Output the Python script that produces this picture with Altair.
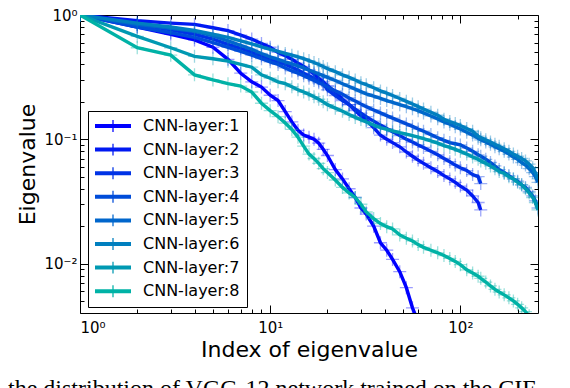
import altair as alt
import pandas as pd

# ---------------- data ----------------
X = [1, 2, 3, 4, 5, 6, 7, 8, 9, 10, 11, 12, 13, 14, 15, 16, 17, 18, 19, 20,
     22, 24, 26, 28, 30, 32, 35, 38, 41, 44, 48, 52, 56, 60, 64,
     70, 76, 82, 88, 94, 100, 108, 116, 124, 128,
     136, 144, 152, 160, 170, 180, 190, 200, 210, 220, 230, 240, 248, 256]

NAMES = ["CNN-layer:1", "CNN-layer:2", "CNN-layer:3", "CNN-layer:4",
         "CNN-layer:5", "CNN-layer:6", "CNN-layer:7", "CNN-layer:8"]
COLORS = ["#0000ff", "#0019f2", "#0033e6", "#004cd9",
          "#0066cc", "#007fbf", "#0099b2", "#00b2a6"]

L1 = [1.0, 0.80, 0.70, 0.63, 0.55, 0.44, 0.34, 0.29, 0.263, 0.226, 0.205, 0.167,
      0.138, 0.118, 0.108, 0.104, 0.100, 0.093, 0.083, 0.074,
      0.057, 0.048, 0.040, 0.034, 0.028, 0.025, 0.020, 0.0147, 0.0128, 0.0108,
      0.0086, 0.0064, 0.0044, 0.0034, 0.0027]
L2 = [1.0, 0.90, 0.86, 0.84, 0.79, 0.75, 0.69, 0.64, 0.59, 0.55, 0.50, 0.47,
      0.44, 0.41, 0.385, 0.36, 0.335, 0.31, 0.29, 0.27,
      0.24, 0.21, 0.19, 0.17, 0.155, 0.142, 0.124, 0.108, 0.100, 0.094,
      0.087, 0.079, 0.073, 0.068, 0.064,
      0.059, 0.055, 0.051, 0.048, 0.045, 0.042, 0.039, 0.035, 0.031, 0.027]
L3 = [1.0, 0.84, 0.76, 0.70, 0.64, 0.58, 0.54, 0.50, 0.47, 0.44, 0.42, 0.40,
      0.38, 0.36, 0.34, 0.325, 0.31, 0.295, 0.28, 0.25,
      0.225, 0.205, 0.19, 0.175, 0.162, 0.152, 0.14, 0.13, 0.122, 0.115,
      0.107, 0.100, 0.095, 0.090, 0.086,
      0.080, 0.075, 0.070, 0.066, 0.062, 0.059, 0.056, 0.052, 0.050, 0.044]
L4 = [1.0, 0.80, 0.72, 0.66, 0.60, 0.55, 0.51, 0.475, 0.445, 0.42, 0.40, 0.375,
      0.355, 0.34, 0.325, 0.31, 0.297, 0.285, 0.275, 0.265,
      0.245, 0.23, 0.215, 0.203, 0.192, 0.183, 0.172, 0.163, 0.155, 0.148,
      0.14, 0.133, 0.127, 0.121, 0.116,
      0.109, 0.103, 0.098, 0.094, 0.092, 0.09, 0.085, 0.08, 0.075, 0.073,
      0.069, 0.065, 0.061, 0.057, 0.054, 0.051, 0.048, 0.046, 0.043, 0.041,
      0.038, 0.035, 0.032, 0.028]
L5 = [1.0, 0.84, 0.78, 0.74, 0.68, 0.62, 0.57, 0.53, 0.49, 0.46, 0.44, 0.42,
      0.405, 0.39, 0.375, 0.36, 0.348, 0.336, 0.325, 0.315,
      0.297, 0.28, 0.266, 0.253, 0.242, 0.232, 0.222, 0.213, 0.205, 0.198,
      0.19, 0.183, 0.176, 0.17, 0.163,
      0.154, 0.146, 0.138, 0.132, 0.126, 0.121, 0.114, 0.108, 0.102, 0.099,
      0.095, 0.091, 0.087, 0.084, 0.08, 0.076, 0.072, 0.069, 0.065, 0.062,
      0.058, 0.054, 0.05, 0.045]
L6 = [1.0, 0.86, 0.80, 0.75, 0.70, 0.66, 0.62, 0.585, 0.555, 0.53, 0.51, 0.49,
      0.475, 0.46, 0.445, 0.43, 0.415, 0.40, 0.385, 0.37,
      0.35, 0.33, 0.315, 0.30, 0.285, 0.275, 0.26, 0.245, 0.235, 0.225,
      0.213, 0.202, 0.192, 0.183, 0.175,
      0.165, 0.156, 0.145, 0.139, 0.134, 0.129, 0.122, 0.116, 0.106, 0.103,
      0.099, 0.095, 0.091, 0.088, 0.084, 0.08, 0.076, 0.073, 0.07, 0.067,
      0.063, 0.059, 0.054, 0.048]
L7 = [1.0, 0.674, 0.545, 0.465, 0.445, 0.425, 0.40, 0.38, 0.33, 0.31, 0.29, 0.28,
      0.265, 0.25, 0.24, 0.23, 0.22, 0.21, 0.20, 0.19,
      0.178, 0.168, 0.158, 0.15, 0.144, 0.138, 0.13, 0.124, 0.12, 0.117,
      0.113, 0.11, 0.107, 0.104, 0.101,
      0.097, 0.093, 0.089, 0.086, 0.083, 0.08, 0.076, 0.072, 0.069, 0.067,
      0.064, 0.061, 0.058, 0.055, 0.053, 0.05, 0.048, 0.045, 0.043, 0.04,
      0.037, 0.034, 0.031, 0.027]
L8 = [1.0, 0.545, 0.475, 0.33, 0.30, 0.28, 0.268, 0.24, 0.195, 0.17, 0.152, 0.135,
      0.12, 0.104, 0.088, 0.076, 0.07, 0.064, 0.058, 0.054,
      0.047, 0.041, 0.037, 0.034, 0.030, 0.026, 0.023, 0.021, 0.0198, 0.019,
      0.017, 0.016, 0.0152, 0.0142, 0.0135,
      0.0128, 0.0122, 0.0116, 0.011, 0.0104, 0.0098, 0.0089, 0.0084, 0.0079, 0.0076,
      0.0071, 0.0066, 0.0062, 0.0059, 0.0056, 0.0053, 0.005, 0.0047, 0.0044, 0.0041,
      0.0038, 0.0035, 0.0032, 0.0028]
SERIES = [L1, L2, L3, L4, L5, L6, L7, L8]

X_MAJOR = [1, 10, 100]
X_MAJOR_LABELS = ["10⁰", "10¹", "10²"]
X_MINOR = [2, 3, 4, 5, 6, 7, 8, 9, 20, 30, 40, 50, 60, 70, 80, 90, 200]
Y_MAJOR = [0.01, 0.1, 1]
Y_MAJOR_LABELS = ["10⁻²", "10⁻¹", "10⁰"]
Y_MINOR = [0.005, 0.006, 0.007, 0.008, 0.009,
           0.02, 0.03, 0.04, 0.05, 0.06, 0.07, 0.08, 0.09,
           0.2, 0.3, 0.4, 0.5, 0.6, 0.7, 0.8, 0.9]

CAPTION = "the distribution of VGG-12 network trained on the CIF"

rows = []
for name, vals in zip(NAMES, SERIES):
    for xv, v in zip(X, vals):
        rows.append({"x": xv, "v": v, "layer": name})
df = pd.DataFrame(rows)


def label_expr(values, labels):
    expr = f"'{labels[-1]}'"
    for v, lab in reversed(list(zip(values[:-1], labels[:-1]))):
        expr = f"abs(datum.value - {v}) < {v * 1e-6} ? '{lab}' : " + expr
    return expr


FONT = "DejaVu Sans"
PLUS = "M-1,0L1,0M0,-1L0,1"
LEG_SYM = ("M-1,-0.11L1,-0.11L1,0.11L-1,0.11Z "
           "M-0.035,-0.33L0.035,-0.33L0.035,0.33L-0.035,0.33Z")

xs = alt.Scale(type="log", domain=[1, 256], nice=False)
ys = alt.Scale(type="log", domain=[0.004, 1], nice=False)
cs = alt.Scale(domain=NAMES, range=COLORS)

base = alt.Chart(df)

common = dict(grid=False, domain=False, tickColor="black", tickWidth=1)

ax_b_major = alt.Axis(orient="bottom", values=X_MAJOR,
                      labelExpr=label_expr(X_MAJOR, X_MAJOR_LABELS),
                      tickSize=8, offset=-8, labelPadding=7,
                      labelFont=FONT, labelFontSize=15, labelColor="black",
                      title="Index of eigenvalue", titleFont=FONT, titleFontSize=22,
                      titleFontWeight="normal", titleColor="black",
                      titleBaseline="alphabetic", titleY=51, **common)
ax_b_minor = alt.Axis(orient="bottom", values=X_MINOR, labels=False,
                      tickSize=4, offset=-4, title=None, **common)
ax_t_major = alt.Axis(orient="top", values=X_MAJOR, labels=False,
                      tickSize=8, offset=-8, title=None, **common)
ax_t_minor = alt.Axis(orient="top", values=X_MINOR, labels=False,
                      tickSize=4, offset=-4, title=None, **common)

ax_l_major = alt.Axis(orient="left", values=Y_MAJOR,
                      labelExpr=label_expr(Y_MAJOR, Y_MAJOR_LABELS),
                      tickSize=8, offset=-8, labelPadding=3,
                      labelFont=FONT, labelFontSize=15, labelColor="black",
                      title="Eigenvalue", titleFont=FONT, titleFontSize=22,
                      titleFontWeight="normal", titleColor="black",
                      titleBaseline="middle", titleX=-61, **common)
ax_l_minor = alt.Axis(orient="left", values=Y_MINOR, labels=False,
                      tickSize=4, offset=-4, title=None, **common)
ax_r_major = alt.Axis(orient="right", values=Y_MAJOR, labels=False,
                      tickSize=8, offset=-8, title=None, **common)
ax_r_minor = alt.Axis(orient="right", values=Y_MINOR, labels=False,
                      tickSize=4, offset=-4, title=None, **common)

legend = alt.Legend(title=None, orient="none", legendX=8, legendY=96,
                    symbolType=LEG_SYM, symbolSize=1296, symbolStrokeWidth=0,
                    symbolOpacity=1, clipHeight=16,
                    labelFont=FONT, labelFontSize=16, labelColor="black",
                    labelOffset=12, labelLimit=0, padding=7, rowPadding=7.6,
                    strokeColor="black", fillColor="white", cornerRadius=0)

empty = base.transform_filter("false")
carriers = [
    empty.mark_point(filled=True, opacity=1).encode(
        x=alt.X("x:Q", scale=xs, axis=ax_b_major),
        y=alt.Y("v:Q", scale=ys, axis=ax_l_major),
        color=alt.Color("layer:N", scale=cs, legend=legend),
    ),
    empty.mark_point().encode(
        x=alt.X("x:Q", scale=xs, axis=ax_b_minor),
        y=alt.Y("v:Q", scale=ys, axis=ax_l_minor),
    ),
    empty.mark_point().encode(
        x=alt.X("x:Q", scale=xs, axis=ax_t_major),
        y=alt.Y("v:Q", scale=ys, axis=ax_r_major),
    ),
    empty.mark_point().encode(
        x=alt.X("x:Q", scale=xs, axis=ax_t_minor),
        y=alt.Y("v:Q", scale=ys, axis=ax_r_minor),
    ),
]

layers = []
for name in NAMES:
    sub = base.transform_filter(alt.datum.layer == name)
    layers.append(sub.mark_line(strokeWidth=3.4, clip=True).encode(
        x=alt.X("x:Q", scale=xs, axis=None),
        y=alt.Y("v:Q", scale=ys, axis=None),
        color=alt.Color("layer:N", scale=cs, legend=legend),
    ))
    layers.append(sub.mark_point(shape=PLUS, filled=False, size=169,
                                 strokeWidth=1.3, strokeOpacity=0.55,
                                 clip=True).encode(
        x=alt.X("x:Q", scale=xs, axis=None),
        y=alt.Y("v:Q", scale=ys, axis=None),
        color=alt.Color("layer:N", scale=cs, legend=legend),
    ))

chart = alt.layer(*carriers, *layers).resolve_axis(
    x="independent", y="independent"
).properties(
    width=458, height=298,
    padding={"left": 0, "top": 0, "right": 5, "bottom": 0},
    title=alt.Title(CAPTION, orient="bottom", anchor="start", frame="group",
                    dx=-72, offset=17,
                    font="Liberation Serif", fontSize=24, fontWeight="normal",
                    color="black"),
).configure_view(stroke="black", strokeWidth=1)

chart.save("out.html", embed_options={"renderer": "svg", "actions": False})
